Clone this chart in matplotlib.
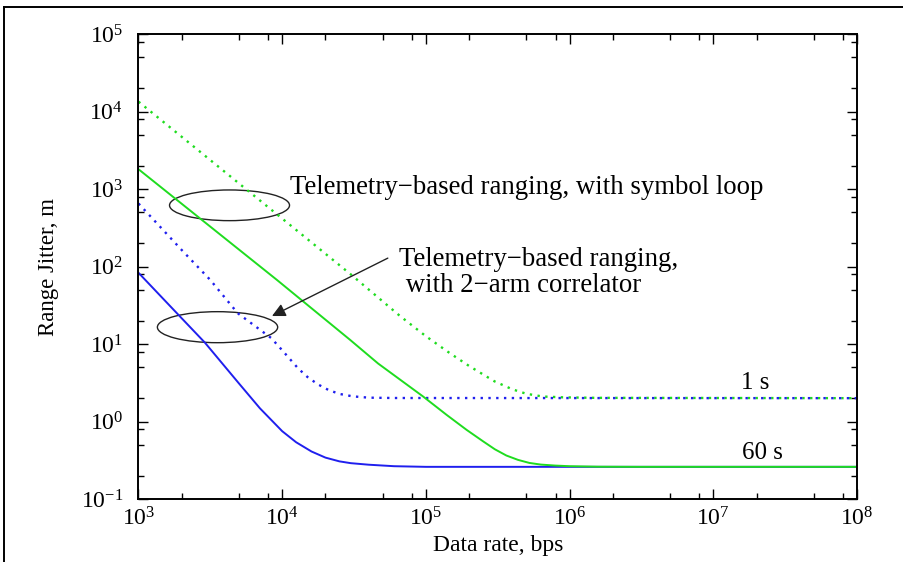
import numpy as np
import matplotlib
matplotlib.use("Agg")
import matplotlib.pyplot as plt
from matplotlib.patches import Ellipse
from matplotlib.lines import Line2D
from matplotlib.ticker import LogLocator, NullFormatter

plt.rcParams['font.family'] = ['Liberation Serif', 'DejaVu Serif']
plt.rcParams['mathtext.fontset'] = 'stix'

# values: data rate (bps) -> range jitter (m)
arm_60s_rate = [1e3, 1.9e3, 2.9e3, 5e3, 7e3, 1e4, 1.25e4, 1.6e4, 2e4, 2.5e4, 3e4, 4e4, 6e4, 1e5, 1e8]
arm_60s_jit = [83, 23.7, 10.4, 3.1, 1.48, 0.75, 0.54, 0.41, 0.342, 0.306, 0.29, 0.277, 0.265, 0.26, 0.26]

arm_1s_rate = [1e3, 2e3, 3.16e3, 4.9e3, 8.4e3, 1e4, 1.29e4, 1.5e4, 1.77e4, 2.1e4, 2.5e4, 3.1e4, 4e4, 6e4, 1e8]
arm_1s_jit = [650, 163, 67, 25, 11.9, 8.3, 4.85, 3.75, 3.02, 2.55, 2.27, 2.11, 2.03, 2.01, 2.0]

loop_60s_rate = [1e3, 9.2e3, 2.97e4, 4.65e4, 9.6e4, 1.4e5, 1.92e5, 2.5e5, 3.02e5, 3.63e5,
                 4.37e5, 5.25e5, 6.31e5, 7.94e5, 1e6, 1.58e6, 3e6, 1e8]
loop_60s_jit = [1800, 67, 11.3, 5.6, 2.09, 1.21, 0.78, 0.555, 0.438, 0.364,
                0.32, 0.292, 0.278, 0.27, 0.265, 0.261, 0.26, 0.26]

loop_1s_rate = [1e3, 3.03e4, 6.6e4, 1e5, 1.47e5, 2e5, 3e5, 4e5, 5e5, 6.5e5, 9e5, 1.5e6, 1e8]
loop_1s_jit = [13400, 78, 23, 12.6, 7.6, 5.2, 3.3, 2.6, 2.28, 2.10, 2.05, 2.02, 2.0]

green = '#1fdc1f'
blue = '#1f1fee'

fig = plt.figure(figsize=(9.04, 5.62), dpi=100)
ax = fig.add_axes([0.1532, 0.1121, 0.7948, 0.8274])

dots = (0, (1, 2.3))
ax.plot(loop_1s_rate, loop_1s_jit, color=green, lw=1.7, linestyle=dots)
ax.plot(arm_1s_rate, arm_1s_jit, color=blue, lw=1.7, linestyle=dots)
ax.plot(arm_60s_rate, arm_60s_jit, color=blue, lw=1.4)
ax.plot(loop_60s_rate, loop_60s_jit, color=green, lw=1.4)

ax.set_xscale('log')
ax.set_yscale('log')
ax.set_xlim(1e3, 1e8)
ax.set_ylim(1e-1, 1e5)

for a in (ax.xaxis, ax.yaxis):
    a.set_major_locator(LogLocator(base=10, numticks=20))
    a.set_minor_locator(LogLocator(base=10, subs=(2.0, 5.0, 8.0), numticks=20))
    a.set_minor_formatter(NullFormatter())

ax.tick_params(which='both', direction='in', top=True, right=True, width=1.0)
ax.tick_params(which='major', length=7, labelsize=17)
ax.tick_params(which='minor', length=4)
ax.tick_params(axis='x', which='major', pad=6)
ax.tick_params(axis='y', which='major', pad=11)
for s in ax.spines.values():
    s.set_linewidth(1.4)

ax.set_xlabel('Data rate, bps', fontsize=17, labelpad=3)
ax.set_ylabel('Range Jitter, m', fontsize=16.5, labelpad=16)

# annotations
ax.add_patch(Ellipse((0.1267, 0.6316), 0.167, 0.066, transform=ax.transAxes,
                     fill=False, edgecolor='#222222', lw=1.0))
ax.add_patch(Ellipse((0.110, 0.3695), 0.1674, 0.0667, transform=ax.transAxes,
                     fill=False, edgecolor='#222222', lw=1.0))
ax.text(0.211, 0.669, 'Telemetry\u2212based ranging, with symbol loop',
        transform=ax.transAxes, fontsize=19.3, ha='left', va='center')
ax.text(0.3626, 0.487, 'Telemetry\u2212based ranging,\n with 2\u2212arm correlator',
        transform=ax.transAxes, fontsize=19.3, ha='left', va='center', linespacing=1.05)
ax.annotate('', xy=(0.1858, 0.3935), xytext=(0.347, 0.518),
            xycoords='axes fraction', textcoords='axes fraction',
            arrowprops=dict(arrowstyle='-|>', color='#222222', lw=1.0,
                            mutation_scale=20, shrinkA=0, shrinkB=0))
ax.text(0.859, 0.249, '1 s', transform=ax.transAxes, fontsize=18, ha='center', va='center')
ax.text(0.869, 0.099, '60 s', transform=ax.transAxes, fontsize=18, ha='center', va='center')

# outer frame (top and left edges)
fx = 4.5 / 904
fy = 1 - 7 / 562
fig.add_artist(Line2D([fx, fx], [0, fy], color='black', lw=1.4))
fig.add_artist(Line2D([fx, 1], [fy, fy], color='black', lw=1.4))

fig.savefig('out.png', dpi=100)
